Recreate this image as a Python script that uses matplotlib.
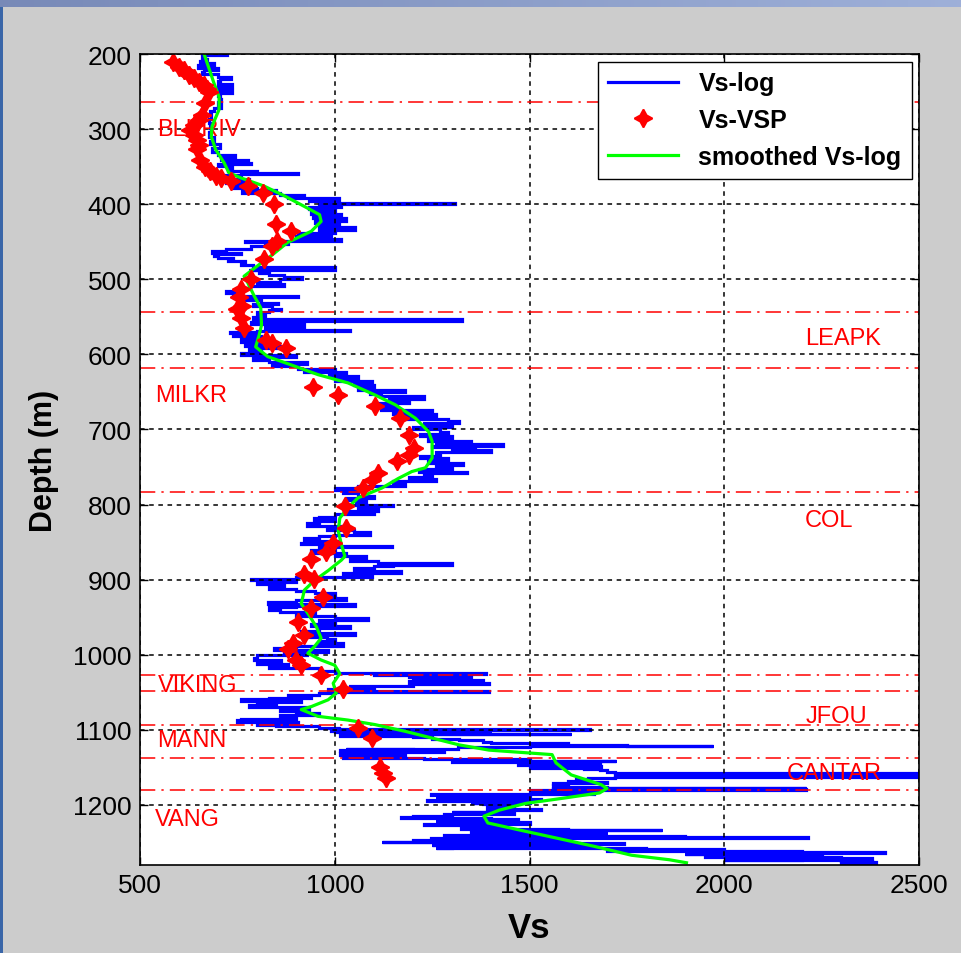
import matplotlib
matplotlib.use("Agg")
import matplotlib.pyplot as plt
import numpy as np
from matplotlib.patches import Rectangle

# ---- data -----------------------------------------------------------------
# Vs-log (blue), sampled as (depth, Vs) pairs along the curve
LOG_DEPTH = [
    200, 201, 203, 206, 209, 212, 215, 218, 221, 224, 227, 230, 233, 236, 240, 244, 248, 252, 256, 260,
    264, 268, 272, 276, 280, 286, 292, 298, 304, 310, 316, 320, 325, 330, 335, 338, 341, 343, 345, 347,
    349, 352, 356, 358, 360, 361, 364, 367, 369, 372, 375, 378, 381, 383, 385, 388, 390, 392, 394, 396,
    398, 400, 401, 404, 407, 410, 413, 416, 419, 422, 425, 428, 431, 434, 436, 438, 440, 443, 446, 449,
    450, 453, 456, 460, 463, 465, 467, 469, 471, 474, 476, 478, 481, 484, 487, 488, 491, 494, 497, 500,
    503, 506, 509, 512, 515, 518, 520, 522, 524, 526, 528, 531, 533, 536, 539, 541, 543, 546, 550, 553,
    556, 557, 560, 563, 565, 567, 569, 570, 572, 574, 576, 579, 583, 586, 589, 592, 595, 598, 601, 604,
    607, 610, 613, 616, 619, 621, 623, 626, 629, 632, 635, 638, 641, 644, 647, 650, 653, 656, 659, 662,
    665, 668, 671, 674, 677, 680, 683, 686, 689, 692, 694, 697, 700, 703, 706, 709, 712, 715, 718, 720,
    722, 724, 726, 728, 730, 732, 735, 738, 741, 744, 747, 750, 753, 756, 758, 760, 763, 766, 769, 772,
    775, 778, 780, 782, 785, 788, 791, 794, 797, 800, 802, 805, 808, 811, 813, 816, 818, 820, 822, 825,
    828, 831, 834, 837, 840, 842, 845, 848, 851, 853, 855, 857, 858, 861, 864, 866, 869, 872, 875, 878,
    881, 882, 885, 888, 891, 894, 897, 899, 901, 903, 906, 909, 912, 915, 918, 921, 924, 927, 930, 933,
    935, 937, 940, 943, 945, 948, 951, 954, 956, 959, 962, 965, 968, 971, 974, 976, 979, 982, 985, 988,
    991, 994, 996, 998, 1001, 1004, 1007, 1009, 1012, 1015, 1018, 1021, 1024, 1025, 1027, 1029, 1031, 1033, 1035, 1037,
    1039, 1041, 1043, 1046, 1048, 1049, 1051, 1053, 1055, 1057, 1059, 1061, 1063, 1065, 1067, 1070, 1073, 1075, 1078, 1080,
    1082, 1085, 1087, 1089, 1091, 1093, 1095, 1097, 1099, 1100, 1101, 1102, 1103, 1104, 1105, 1106, 1107, 1108, 1110, 1112,
    1114, 1116, 1118, 1120, 1121, 1122, 1123, 1125, 1126, 1127, 1128, 1129, 1131, 1133, 1135, 1136, 1137, 1139, 1141, 1142,
    1143, 1144, 1146, 1147, 1148, 1150, 1151, 1152, 1154, 1156, 1158, 1159, 1160, 1161, 1162, 1163, 1164, 1166, 1168, 1170,
    1171, 1172, 1174, 1176, 1177, 1178, 1179, 1180, 1181, 1182, 1183, 1184, 1185, 1186, 1187, 1188, 1189, 1190, 1191, 1192,
    1193, 1194, 1195, 1196, 1197, 1198, 1199, 1200, 1202, 1203, 1205, 1206, 1207, 1208, 1209, 1210, 1212, 1213, 1215, 1216,
    1218, 1219, 1220, 1221, 1222, 1223, 1225, 1226, 1227, 1228, 1230, 1231, 1232, 1233, 1234, 1235, 1236, 1237, 1238, 1239,
    1240, 1241, 1242, 1243, 1244, 1245, 1246, 1247, 1248, 1249, 1250, 1251, 1252, 1253, 1254, 1255, 1256, 1257, 1258, 1259,
    1260, 1261, 1262, 1263, 1264, 1265, 1266, 1267, 1268, 1269, 1270, 1271, 1272, 1273, 1274, 1275, 1276, 1278, 1282,
]
LOG_VS = [
    660, 724, 668, 660, 672, 655, 690, 650, 700, 665, 660, 700, 733, 705, 700, 737, 700, 737, 700, 705,
    707, 700, 707, 690, 680, 682, 678, 680, 682, 676, 690, 680, 705, 686, 700, 745, 707, 776, 720, 785,
    700, 735, 725, 800, 905, 760, 700, 690, 780, 720, 785, 735, 800, 850, 762, 860, 920, 880, 1010, 935,
    1000, 1310, 960, 1015, 935, 1000, 940, 1017, 945, 1030, 950, 1010, 960, 1052, 960, 1000, 905, 990, 900, 1017,
    770, 880, 820, 784, 720, 685, 760, 690, 700, 740, 725, 770, 760, 790, 1000, 780, 805, 830, 870, 915,
    860, 800, 870, 780, 760, 720, 740, 760, 905, 780, 760, 810, 855, 790, 840, 862, 830, 800, 820, 790,
    1327, 800, 785, 922, 820, 880, 1039, 800, 730, 800, 740, 810, 760, 845, 770, 860, 780, 810, 760, 900,
    790, 830, 930, 840, 905, 1000, 920, 1030, 985, 1060, 1000, 1095, 1050, 1100, 1060, 1180, 1090, 1120, 1230, 1140,
    1190, 1100, 1160, 1120, 1250, 1150, 1260, 1180, 1290, 1320, 1230, 1300, 1200, 1270, 1290, 1220, 1300, 1240, 1350, 1260,
    1431, 1250, 1360, 1300, 1400, 1260, 1270, 1220, 1290, 1240, 1330, 1260, 1300, 1216, 1340, 1230, 1250, 1190, 1260, 1150,
    1180, 1060, 1000, 1069, 1020, 1060, 1100, 1030, 1080, 1055, 1150, 1060, 1110, 1030, 1100, 1000, 960, 948, 1000, 960,
    930, 1017, 980, 1050, 1090, 1000, 960, 920, 1010, 914, 980, 1146, 960, 1000, 940, 1030, 1000, 1080, 1040, 1110,
    1302, 1150, 1100, 1050, 1170, 1020, 1095, 900, 784, 900, 800, 870, 830, 900, 950, 1000, 960, 1030, 900, 828,
    1052, 900, 830, 860, 950, 900, 1000, 1086, 960, 1000, 940, 1040, 960, 914, 1052, 930, 980, 1000, 960, 1020,
    900, 845, 983, 870, 930, 800, 793, 862, 800, 880, 830, 960, 1000, 1388, 1100, 1190, 1350, 1200, 1380, 1190,
    1396, 1200, 1040, 1100, 983, 1396, 1000, 960, 880, 940, 830, 759, 914, 800, 850, 780, 935, 860, 900, 960,
    860, 900, 760, 750, 905, 800, 850, 960, 1010, 1655, 990, 1400, 1000, 1300, 1120, 1607, 1100, 1014, 1200, 1250,
    1320, 1380, 1400, 1600, 1750, 1971, 1500, 1316, 1030, 1200, 1014, 1280, 1050, 1014, 1180, 1030, 1020, 1228, 1500, 1723,
    1300, 1560, 1680, 1470, 1600, 1684, 1500, 1640, 1680, 1700, 1720, 2600, 1720, 2600, 1720, 2600, 1720, 1650, 1620, 1600,
    1700, 1560, 1600, 1560, 1700, 2209, 1560, 2209, 1500, 1650, 1520, 1600, 1665, 1300, 1248, 1500, 1450, 1260, 1300, 1480,
    1529, 1300, 1238, 1420, 1500, 1350, 1380, 1450, 1460, 1400, 1390, 1500, 1529, 1420, 1400, 1300, 1460, 1280, 1300, 1200,
    1170, 1400, 1471, 1300, 1260, 1420, 1500, 1300, 1230, 1380, 1440, 1350, 1325, 1600, 1840, 1500, 1350, 1400, 1700, 1450,
    1560, 1280, 1300, 1900, 2214, 1248, 1500, 1600, 1200, 1300, 1121, 1500, 1743, 1400, 1250, 1550, 1650, 1300, 1260, 1800,
    2000, 1700, 1700, 2200, 2413, 2000, 1900, 2250, 2100, 1950, 1950, 2300, 2380, 2200, 2000, 2300, 2380, 2390, 2300,
]

# Vs-VSP (red stars)
VSP_DEPTH = [
    210, 217, 221, 228, 232, 237, 241, 246, 250, 265, 281, 288, 294, 301, 308, 314, 321, 327, 341, 350,
    356, 363, 365, 369, 376, 385, 400, 427, 436, 449, 456, 473, 500, 513, 524, 535, 539, 552, 565, 581,
    585, 592, 644, 654, 669, 685, 707, 725, 734, 742, 758, 767, 778, 802, 831, 851, 863, 872, 892, 899,
    923, 938, 956, 974, 985, 992, 1007, 1014, 1027, 1045, 1098, 1111, 1149, 1157, 1164,
]
VSP_VS = [
    586, 599, 612, 625, 638, 651, 664, 672, 677, 668, 659, 651, 638, 629, 638, 647, 651, 647, 655, 668,
    681, 694, 707, 733, 776, 815, 845, 849, 888, 853, 840, 819, 784, 759, 754, 763, 750, 759, 767, 823,
    840, 875, 944, 1009, 1103, 1168, 1190, 1203, 1190, 1159, 1112, 1095, 1073, 1026, 1030, 996, 978, 940, 922, 948,
    970, 940, 905, 922, 892, 879, 901, 914, 965, 1022, 1060, 1095, 1117, 1124, 1131,
]

# smoothed Vs-log (green)
SMOOTH_DEPTH = [
    199, 239, 257, 274, 296, 310, 327, 345, 358, 365, 376, 389, 403, 414, 423, 436, 451, 469, 482, 496,
    504, 522, 538, 561, 574, 590, 603, 614, 627, 638, 654, 667, 685, 703, 716, 738, 751, 756, 765, 778,
    791, 804, 818, 835, 853, 869, 874, 888, 901, 914, 932, 945, 963, 978, 989, 998, 1007, 1014, 1025, 1038,
    1051, 1060, 1069, 1073, 1082, 1087, 1093, 1102, 1111, 1120, 1127, 1133, 1144, 1160, 1173, 1178, 1184, 1191,
    1198, 1207, 1215, 1224, 1233, 1244, 1255, 1267, 1273, 1277,
]
SMOOTH_VS = [
    664, 690, 703, 703, 685, 683, 694, 716, 728, 759, 819, 871, 922, 961, 965, 940, 879, 836, 802, 767,
    776, 793, 810, 812, 806, 797, 828, 888, 957, 1034, 1103, 1155, 1207, 1241, 1250, 1250, 1233, 1198, 1164, 1121,
    1060, 1034, 1013, 1009, 1017, 1026, 1017, 983, 948, 922, 914, 931, 953, 965, 948, 931, 965, 1000, 1013, 996,
    1004, 983, 940, 914, 957, 1034, 1103, 1181, 1250, 1319, 1396, 1558, 1568, 1607, 1684, 1699, 1680, 1587,
    1490, 1422, 1383, 1393, 1471, 1568, 1665, 1762, 1859, 1903,
]

# formation tops (red dash-dot lines) and their labels
TOP_DEPTHS = [264, 543, 618, 783, 1027, 1048, 1094, 1137, 1180]
FORMATIONS = ["BLKRIV", "LEAPK", "MILKR", "COL", "VIKING", "JFOU", "MANN", "CANTAR", "VANG"]
LABEL_VS = [544, 2207, 538, 2207, 545, 2210, 545, 2160, 538]
LABEL_DEPTH = [300, 578, 654, 820, 1040, 1082, 1114, 1157, 1219]

X_TICKS = [500, 1000, 1500, 2000, 2500]
Y_TICKS = [200, 300, 400, 500, 600, 700, 800, 900, 1000, 1100, 1200]

plt.rcParams.update({
    "font.family": ["Liberation Sans", "DejaVu Sans"],
    "font.size": 14,
})

fig = plt.figure(figsize=(9.61, 9.54), dpi=100, facecolor="#cccccc")

# slide chrome: blue gradient band on top, dark blue edge on the left
band = fig.add_axes([0, 1 - 8 / 954, 1, 8 / 954])
band.imshow(
    np.linspace(0, 1, 256)[None, :, None] * np.array([0.15, 0.15, 0.13]) + np.array([0.47, 0.54, 0.72]),
    aspect="auto", extent=[0, 1, 0, 1],
)
band.axis("off")
fig.patches.append(Rectangle((0, 0), 3 / 961, 1 - 8 / 954, transform=fig.transFigure,
                             facecolor="#3a66a8", edgecolor="none"))

ax = fig.add_axes([140 / 961, 1 - 866 / 954, 779 / 961, 811 / 954])
ax.set_facecolor("white")

log_line, = ax.plot(LOG_VS, LOG_DEPTH, color="#0000ff", linewidth=2.3, drawstyle="steps-post",
                    solid_joinstyle="miter", zorder=2, label="Vs-log")
for depth in TOP_DEPTHS:
    ax.axhline(depth, color="#ff0000", linestyle=(0, (10, 4, 1.5, 4)), linewidth=1.1, zorder=3)
for name, vs, depth in zip(FORMATIONS, LABEL_VS, LABEL_DEPTH):
    ax.text(vs, depth, name, color="#ff0000", fontsize=17, ha="left", va="center", zorder=3.5)
vsp_line, = ax.plot(VSP_VS, VSP_DEPTH, linestyle="none", marker=(4, 1, 0), markersize=13,
                    color="#ff0000", markeredgewidth=1.3, zorder=5, label="Vs-VSP")
smooth_line, = ax.plot(SMOOTH_VS, SMOOTH_DEPTH, color="#00ff00", linewidth=2.3, zorder=4,
                       label="smoothed Vs-log")

ax.set_xlim(500, 2500)
ax.set_ylim(1280, 200)
ax.set_xticks(X_TICKS)
ax.set_yticks(Y_TICKS)
ax.grid(True, color="black", linestyle=(0, (3, 3)), linewidth=1.1, zorder=2.5)
ax.set_axisbelow(False)
ax.tick_params(direction="in", length=6, width=1, top=True, right=True, labelsize=19, pad=6)
for spine in ax.spines.values():
    spine.set_linewidth(1.2)
    spine.set_zorder(6)

ax.set_xlabel("Vs", fontsize=25, fontweight="bold", labelpad=10)
ax.set_ylabel("Depth (m)", fontsize=22, fontweight="bold", labelpad=10)

leg = ax.legend(handles=[log_line, vsp_line, smooth_line], loc="upper right",
                prop={"weight": "bold", "size": 18}, fancybox=False, framealpha=1,
                edgecolor="black", borderaxespad=0.3, handlelength=2.8, labelspacing=0.5,
                borderpad=0.4)
leg.get_frame().set_linewidth(1.0)
leg.set_zorder(7)

fig.savefig("out.png", dpi=100, facecolor=fig.get_facecolor())
